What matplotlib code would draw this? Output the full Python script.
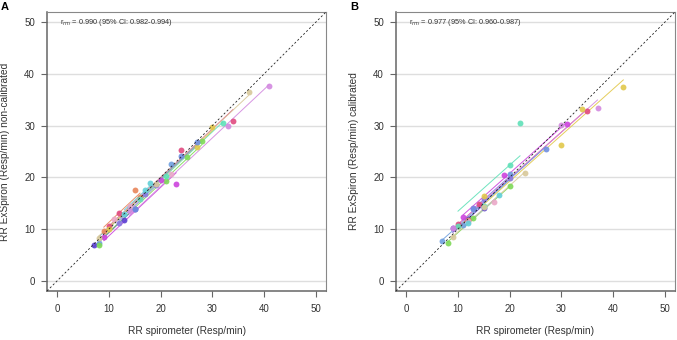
import numpy as np
import matplotlib.pyplot as plt

plt.rcParams["font.family"] = ["Liberation Sans", "DejaVu Sans"]

# subject colours (shared by both panels)
colors = ["#5b3fd1", "#6fa0e0", "#7ed957", "#e8855a", "#cc44dd", "#e04a80",
          "#eaa8c8", "#8a78e0", "#62d0d8", "#5fe0b8", "#e2c84a", "#d8c89a",
          "#d38ae0", "#6f8fe0"]

# panel A: non-calibrated
a_x = [[7, 13, 15], [8, 14, 22], [8, 21, 25, 28], [9, 15, 16], [9, 20, 23],
       [10, 12, 24, 34], [11, 14, 22], [12, 17, 19], [13, 17, 18], [16, 21, 32],
       [10, 27, 30], [8, 19, 37], [14, 33, 41], [15, 24, 27]]
a_y = [[7.0, 11.8, 13.8], [7.3, 14.2, 22.6], [7.0, 19.3, 23.9, 27.0], [9.6, 17.5, 16.2],
       [8.4, 19.5, 18.8], [10.5, 13.1, 25.3, 31.0], [12.0, 14.5, 20.7], [11.1, 16.8, 18.5],
       [13.0, 17.6, 19.0], [15.8, 20.3, 30.6], [10.0, 25.8, 29.7], [8.2, 18.7, 36.5],
       [13.5, 29.9, 37.6], [13.8, 24.1, 26.9]]

# panel B: calibrated
b_x = [[9, 15, 12], [7, 11, 20], [8, 13, 20], [10, 12], [11, 19, 31],
       [10, 14, 35], [12, 17], [13, 15, 20], [18, 12], [10, 15, 20, 22],
       [15, 30, 34, 42], [9, 15, 23], [9, 30, 37], [13, 27]]
b_y = [[10.1, 14.0, 12.0], [7.6, 10.7, 20.6], [7.3, 12.1, 18.3], [10.6, 11.8],
       [12.4, 20.4, 30.4], [10.9, 14.9, 32.8], [11.5, 15.3], [14.1, 15.8, 19.9],
       [16.6, 11.2], [10.5, 14.5, 22.4, 30.5], [16.4, 26.3, 33.3, 37.5],
       [8.5, 14.3, 20.8], [10.1, 30.2, 33.4], [13.9, 25.4]]

panels = [("A", a_x, a_y, "RR ExSpiron (Resp/min) non-calibrated",
           "0.990 (95% CI: 0.982-0.994)"),
          ("B", b_x, b_y, "RR ExSpiron (Resp/min) calibrated",
           "0.977 (95% CI: 0.960-0.987)")]

fig = plt.figure(figsize=(6.77, 3.4), dpi=100)
lefts = [47 / 677, 396 / 677]

for (tag, xs, ys, ylab, rtxt), left in zip(panels, lefts):
    ax = fig.add_axes([left, 49 / 340, 279 / 677, 279 / 340])

    # common within-subject slope (repeated measures correlation fit)
    num = sum(np.sum((np.array(x) - np.mean(x)) * (np.array(y) - np.mean(y))) for x, y in zip(xs, ys))
    den = sum(np.sum((np.array(x) - np.mean(x)) ** 2) for x in xs)
    slope = num / den

    for c, x, y in zip(colors, xs, ys):
        x = np.array(x, float)
        y = np.array(y, float)
        b0 = y.mean() - slope * x.mean()
        xl = np.array([x.min(), x.max()])
        ax.plot(xl, b0 + slope * xl, color=c, lw=0.7, alpha=0.9, zorder=2)
        ax.scatter(x, y, s=18, color=c, alpha=0.9, linewidths=0, zorder=3)

    ax.axline((0, 0), slope=1, color="#222222", ls=(0, (2.5, 2.5)), lw=0.6, zorder=4)

    ax.set_xlim(-2, 52)
    ax.set_ylim(-2, 52)
    ticks = [0, 10, 20, 30, 40, 50]
    ax.set_xticks(ticks)
    ax.set_yticks(ticks)
    for t in ticks:
        ax.axhline(t, color="#dedede", lw=1.0, zorder=0)
    ax.tick_params(direction="out", length=4.3, width=0.8, color="#666666",
                   labelsize=7, labelcolor="#333333", pad=4.3)
    ax.tick_params(axis="x", pad=4.8)
    for s in ax.spines.values():
        s.set_color("#888888")
        s.set_linewidth(0.8)
    ax.spines["left"].set_color("#666666")
    ax.spines["bottom"].set_color("#666666")
    ax.spines["left"].set_linewidth(1.1)
    ax.spines["bottom"].set_linewidth(1.1)

    ax.set_xlabel("RR spirometer (Resp/min)", fontsize=7.3, color="#333333", labelpad=9)
    ax.set_ylabel(ylab, fontsize=7.3, color="#333333", labelpad=10)
    ax.text(0.5, 50, r"r$_{rm}$ = " + rtxt, fontsize=5.3, color="#333333", va="center")

    fig.text(left - 47 / 677 + 1 / 677, 0.995, tag, fontsize=8, fontweight="bold",
             ha="left", va="top")

fig.savefig("out.png", dpi=100)
